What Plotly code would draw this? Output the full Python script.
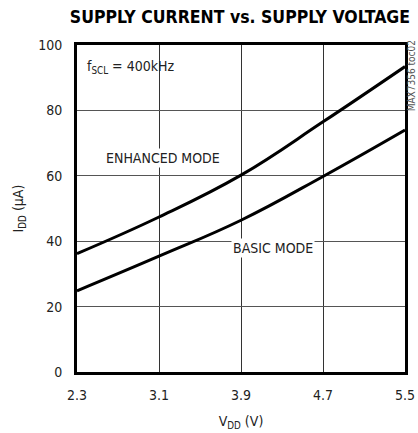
import plotly.graph_objects as go

vdd = [2.3, 3.1, 3.9, 4.7, 5.5]
enhanced = [36.2, 47.4, 60.2, 76.5, 93.4]
basic = [24.8, 35.4, 46.4, 59.8, 74.0]
x_ticks = [2.3, 3.1, 3.9, 4.7, 5.5]
y_ticks = [0, 20, 40, 60, 80, 100]

FONT = "DejaVu Sans Condensed, Liberation Sans Narrow, Liberation Sans, sans-serif"

fig = go.Figure()
for ys in (enhanced, basic):
    fig.add_trace(go.Scatter(x=vdd, y=ys, mode="lines",
                             line=dict(color="black", width=3, shape="spline", smoothing=1.2),
                             showlegend=False, hoverinfo="skip"))

fig.update_layout(
    width=418, height=433,
    margin=dict(l=77, r=13, t=45, b=61),
    paper_bgcolor="white", plot_bgcolor="white",
    font=dict(family=FONT, size=14, color="#222"),
    title=dict(text="<b>SUPPLY CURRENT vs. SUPPLY VOLTAGE</b>", x=0.574, xanchor="center",
               y=0.96, yanchor="middle",
               font=dict(family=FONT, size=17.5, color="black")),
)
fig.update_xaxes(range=[2.3, 5.5], tickvals=x_ticks, ticktext=[f"{v:.1f}" for v in x_ticks],
                 showgrid=True, gridcolor="#333", gridwidth=1,
                 showline=True, linecolor="black", linewidth=3, mirror=True,
                 ticks="", zeroline=False, ticklabelstandoff=8, automargin=False,
                 title=dict(text="V<sub>DD</sub> (V)", standoff=15, font=dict(size=14)))
fig.update_yaxes(range=[0, 100], tickvals=y_ticks,
                 showgrid=True, gridcolor="#555", gridwidth=1,
                 showline=True, linecolor="black", linewidth=3, mirror=True,
                 ticks="", zeroline=False, ticklabelstandoff=9, automargin=False,
                 title=dict(text="I<sub>DD</sub> (µA)", standoff=12, font=dict(size=14)))

fig.add_annotation(x=3.14, y=65.3, text="ENHANCED MODE", showarrow=False,
                   bgcolor="white", font=dict(size=14), borderpad=1)
fig.add_annotation(x=4.21, y=37.9, text="BASIC MODE", showarrow=False,
                   bgcolor="white", font=dict(size=14), borderpad=1)
fig.add_annotation(xref="paper", yref="paper", x=0.025, y=0.965, xanchor="left", yanchor="top",
                   text="f<sub>SCL</sub> = 400kHz", showarrow=False, font=dict(size=14))
fig.add_annotation(xref="paper", yref="paper", x=1.019, y=0.905, xanchor="center", yanchor="middle",
                   text="MAX7356 toc02", textangle=-90, showarrow=False,
                   font=dict(size=10, color="#555"))

fig.write_html("out.html", config={"displayModeBar": False},
               post_script="document.body.style.margin='0';")
